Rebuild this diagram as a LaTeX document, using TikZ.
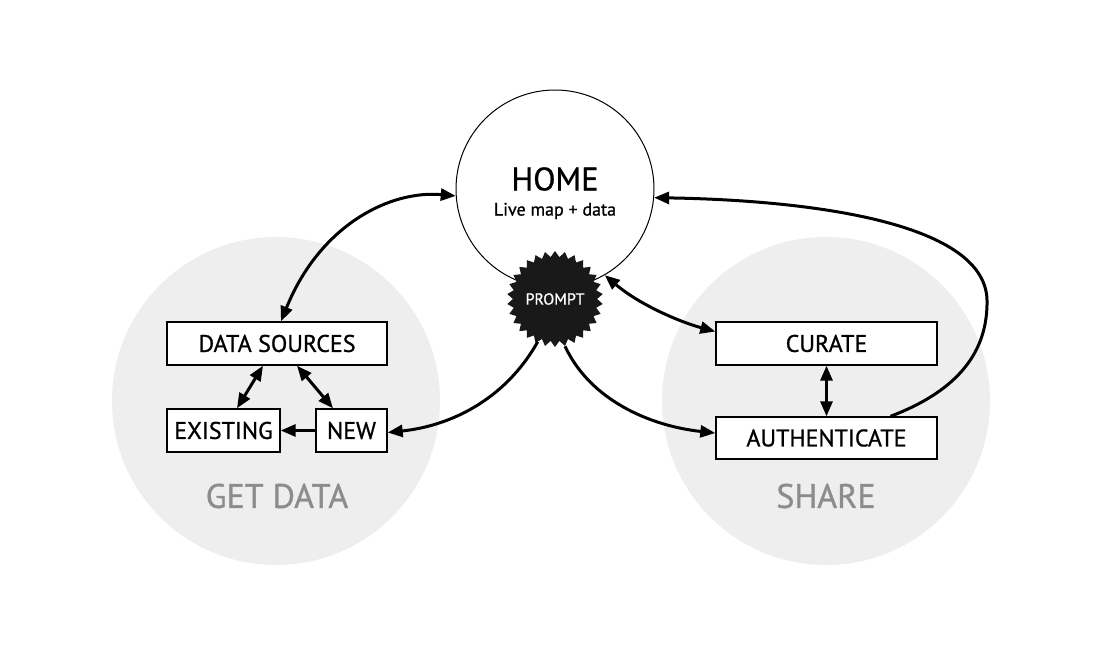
\documentclass[tikz,border=0pt]{standalone}
\usepackage{fontspec}
\setmainfont{PT Sans}[FakeBold=0.9]
\usetikzlibrary{arrows.meta,shapes.geometric}
\definecolor{bggray}{HTML}{EFEEEE}
\definecolor{labgray}{HTML}{8C8C8C}
\begin{document}
\begin{tikzpicture}[x=1pt,y=-1pt,
  box/.style={draw=black,line width=1.4pt,fill=white,inner sep=0pt,font=\fontsize{24}{27}\selectfont},
  conn/.style={line width=3pt,-{Triangle[length=15pt,width=12pt]}},
  bconn/.style={line width=3pt,{Triangle[length=15pt,width=12pt]}-{Triangle[length=15pt,width=12pt]}},
  grouplab/.style={text=labgray,font=\fontsize{34}{38}\selectfont}]
\useasboundingbox (0,0) rectangle (1104,653);
\fill[white] (0,0) rectangle (1104,653);
% group circles
\fill[bggray] (276,401) circle[radius=164];
\fill[bggray] (826,401) circle[radius=164];
\node[grouplab] (getlab) at (277,496) {GET DATA};
\node[grouplab] (sharelab) at (826,496) {SHARE};
% home
\node[circle,draw=black,line width=1pt,fill=white,minimum size=198pt,inner sep=0pt] (home) at (555,189) {};
\node[font=\fontsize{32.5}{36}\selectfont] (hometxt) at (555,179) {HOME};
\node[font=\fontsize{18}{20}\selectfont] (homesub) at (555,211) {Live map + data};
% prompt
\node[star,star points=30,star point ratio=1.14,fill=black!90,minimum size=96pt,inner sep=0pt,
      text=white,font=\fontsize{16}{18}\selectfont] (prompt) at (555,299) {PROMPT};
% boxes
\node[box,minimum width=220pt,minimum height=43pt] (ds) at (277,343.5) {DATA SOURCES};
\node[box,minimum width=113pt,minimum height=43pt] (ex) at (223.5,430.5) {EXISTING};
\node[box,minimum width=71pt,minimum height=43pt] (new) at (351.5,430.5) {NEW};
\node[box,minimum width=221pt,minimum height=43pt] (cur) at (826.5,343.5) {CURATE};
\node[box,minimum width=221pt,minimum height=42pt] (auth) at (826.5,438) {AUTHENTICATE};
% connectors
\draw[bconn] ([xshift=4pt]ds.north) .. controls (320,225) and (390,190) .. (home.184);
\draw[bconn] ([xshift=-14pt]ds.south) -- ([xshift=13.5pt]ex.north);
\draw[bconn] ([xshift=20pt]ds.south) -- ([xshift=-18.5pt]new.north);
\draw[conn] (new.west) -- (ex.east);
\draw[conn] (prompt.-112) .. controls (505,400) and (450,426) .. ([yshift=-2pt]new.east);
\draw[conn] (prompt.-78) .. controls (590,400) and (650,426) .. ([yshift=5pt]auth.west);
\draw[bconn] (home.-60) .. controls (640,305) and (680,322) .. ([yshift=12pt]cur.west);
\draw[bconn] (cur.south) -- (auth.north);
\draw[conn] ([xshift=64pt]auth.north) .. controls (960,390) and (988,350) .. (987,300)
   .. controls (985,220) and (800,200) .. (home.-5);
\end{tikzpicture}
\end{document}
